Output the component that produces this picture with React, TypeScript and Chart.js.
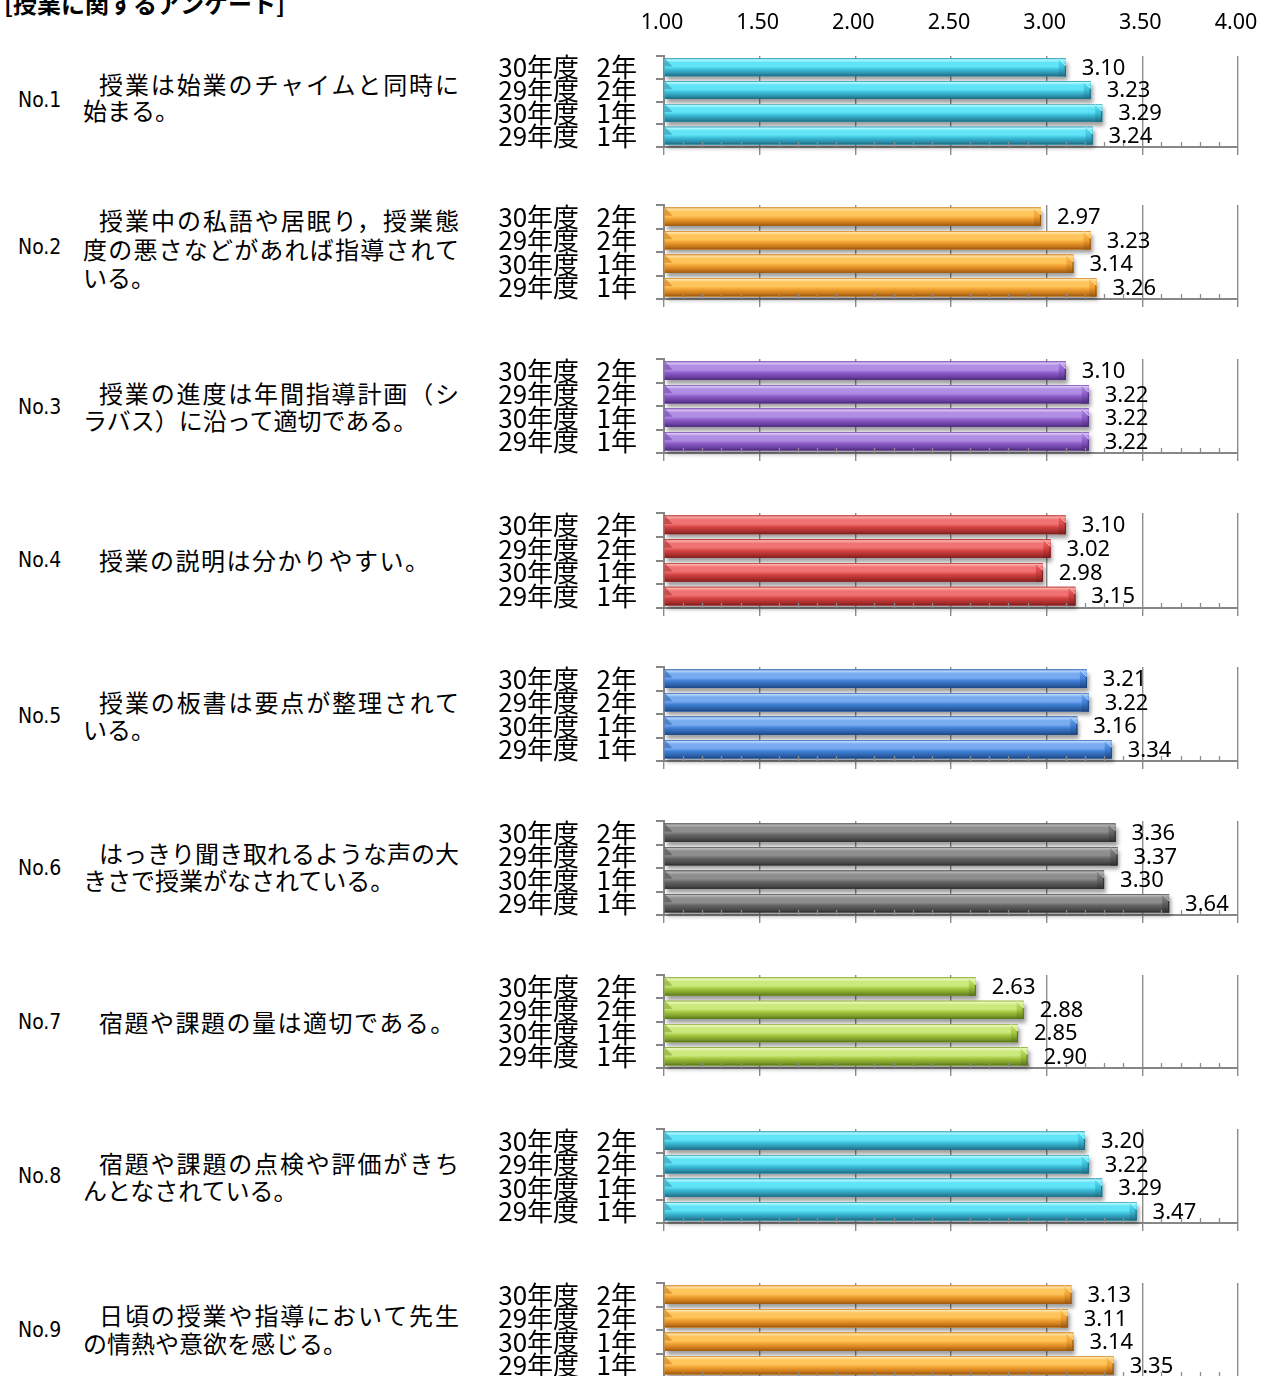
import React, { useEffect, useRef } from "react";
import { Chart, registerables } from "chart.js";

Chart.register(...registerables);

// ---------------- data ----------------
const categories = ["30年度   2年", "29年度   2年", "30年度   1年", "29年度   1年"];

const q1Values = [3.10, 3.23, 3.29, 3.24];
const q2Values = [2.97, 3.23, 3.14, 3.26];
const q3Values = [3.10, 3.22, 3.22, 3.22];
const q4Values = [3.10, 3.02, 2.98, 3.15];
const q5Values = [3.21, 3.22, 3.16, 3.34];
const q6Values = [3.36, 3.37, 3.30, 3.64];
const q7Values = [2.63, 2.88, 2.85, 2.90];
const q8Values = [3.20, 3.22, 3.29, 3.47];
const q9Values = [3.13, 3.11, 3.14, 3.35];

const axisMin = 1.0;
const axisMax = 4.0;
const axisStep = 0.5;

const title = "[授業に関するアンケート]";
const questionNumbers = ["No.1", "No.2", "No.3", "No.4", "No.5", "No.6", "No.7", "No.8", "No.9"];
const questionLines = [
  ["授業は始業のチャイムと同時に", "始まる。"],
  ["授業中の私語や居眠り，授業態", "度の悪さなどがあれば指導されて", "いる。"],
  ["授業の進度は年間指導計画（シ", "ラバス）に沿って適切である。"],
  ["授業の説明は分かりやすい。"],
  ["授業の板書は要点が整理されて", "いる。"],
  ["はっきり聞き取れるような声の大", "きさで授業がなされている。"],
  ["宿題や課題の量は適切である。"],
  ["宿題や課題の点検や評価がきち", "んとなされている。"],
  ["日頃の授業や指導において先生", "の情熱や意欲を感じる。"],
];

// ---------------- styles ----------------
type Pal = { light: string; hi: string; base: string; dark: string; edge: string };
const cyan: Pal = { light: "#b4faff", hi: "#62e4f8", base: "#3cbfda", dark: "#2b8eaa", edge: "#1d6a80" };
const orange: Pal = { light: "#ffe4a8", hi: "#ffc45a", base: "#f0a030", dark: "#c8771a", edge: "#975510" };
const purple: Pal = { light: "#dcc6f7", hi: "#b08ee4", base: "#8c5cc8", dark: "#6a40a2", edge: "#4b2a78" };
const red: Pal = { light: "#ffb0a8", hi: "#f07272", base: "#d54242", dark: "#a82e2e", edge: "#7a1e1e" };
const blue: Pal = { light: "#b8d6ff", hi: "#78abf0", base: "#3f80d6", dark: "#2c60a8", edge: "#1d447e" };
const gray: Pal = { light: "#b8b8b8", hi: "#8e8e8e", base: "#656565", dark: "#4a4a4a", edge: "#2e2e2e" };
const lime: Pal = { light: "#ecfbbf", hi: "#cbe97c", base: "#a3c840", dark: "#7d9c29", edge: "#58721a" };

const panels = [
  { values: q1Values, pal: cyan },
  { values: q2Values, pal: orange },
  { values: q3Values, pal: purple },
  { values: q4Values, pal: red },
  { values: q5Values, pal: blue },
  { values: q6Values, pal: gray },
  { values: q7Values, pal: lime },
  { values: q8Values, pal: cyan },
  { values: q9Values, pal: orange },
];

const panelTops = [56, 205, 359, 513, 667, 821, 975, 1129, 1283];
const panelHeights = [91, 94, 94, 95, 94, 94, 93, 94, 94];
const numberY = [100, 247, 407, 560, 716, 868, 1022, 1176, 1330];
const firstLineY = [84, 220, 393, 560, 702, 853, 1022, 1163, 1315];
const lineGaps = [26, 28.5, 27, 0, 27, 27, 0, 27, 28];

const CANVAS_LEFT = 480;
const CANVAS_W = 789;
const AXIS_LEFT = 184; // 664 on page
const PAD_RIGHT = 31; // right edge at 1238
const GRID_COLOR = "#8c8c8c";
const AXIS_COLOR = "#868686";
const NUM_FONT = '"Noto Sans", "Open Sans", sans-serif';
const JP_FONT = '"Noto Sans CJK JP", "Noto Sans", sans-serif';

function paintBar(ctx: CanvasRenderingContext2D, l: number, r: number, t: number, b: number, p: Pal) {
  const h = b - t;
  const g = ctx.createLinearGradient(0, t, 0, b);
  g.addColorStop(0, p.dark);
  g.addColorStop(0.07, p.light);
  g.addColorStop(0.22, p.hi);
  g.addColorStop(0.45, p.hi);
  g.addColorStop(0.62, p.base);
  g.addColorStop(0.85, p.dark);
  g.addColorStop(1, p.edge);
  ctx.fillStyle = g;
  ctx.fillRect(l, t, r - l, h);
  // left bevel
  ctx.fillStyle = p.dark;
  ctx.globalAlpha = 0.55;
  ctx.beginPath();
  ctx.moveTo(l, t);
  ctx.lineTo(l + 8, t + h * 0.45);
  ctx.lineTo(l, t + h * 0.45);
  ctx.closePath();
  ctx.fill();
  ctx.globalAlpha = 1;
  // right end facet
  const bv = Math.min(7, h * 0.4);
  const fg = ctx.createLinearGradient(0, t, 0, b);
  fg.addColorStop(0, p.hi);
  fg.addColorStop(0.5, p.base);
  fg.addColorStop(1, p.edge);
  ctx.fillStyle = fg;
  ctx.beginPath();
  ctx.moveTo(r - bv, t);
  ctx.lineTo(r, t + bv);
  ctx.lineTo(r, b);
  ctx.lineTo(r - bv, b);
  ctx.closePath();
  ctx.fill();
  ctx.strokeStyle = p.edge;
  ctx.lineWidth = 1;
  ctx.beginPath();
  ctx.moveTo(r - 0.5, t + bv);
  ctx.lineTo(r - 0.5, b);
  ctx.stroke();
  ctx.strokeStyle = p.light;
  ctx.beginPath();
  ctx.moveTo(r - bv, t + 0.5);
  ctx.lineTo(r, t + bv);
  ctx.stroke();
}

function makePlugin(pal: Pal, showTopTicks: boolean) {
  return {
    id: "barDeco",
    beforeDatasetsDraw(chart: any) {
      const ctx = chart.ctx as CanvasRenderingContext2D;
      const meta = chart.getDatasetMeta(0);
      ctx.save();
      meta.data.forEach((el: any) => {
        const h = el.height;
        ctx.shadowColor = "rgba(0,0,0,0.38)";
        ctx.shadowBlur = 4;
        ctx.shadowOffsetX = 2;
        ctx.shadowOffsetY = 4;
        ctx.fillStyle = pal.base;
        ctx.fillRect(el.base, el.y - h / 2, el.x - el.base, h);
      });
      ctx.restore();
    },
    afterDatasetsDraw(chart: any) {
      const ctx = chart.ctx as CanvasRenderingContext2D;
      const meta = chart.getDatasetMeta(0);
      const xs = chart.scales.x;
      const area = chart.chartArea;
      ctx.save();
      meta.data.forEach((el: any) => {
        const h = el.height;
        paintBar(ctx, el.base, el.x, el.y - h / 2, el.y + h / 2, pal);
      });
      // minor ticks on bottom axis
      ctx.strokeStyle = GRID_COLOR;
      ctx.lineWidth = 1.3;
      for (let i = 1; i < 30; i++) {
        if (i % 5 === 0) continue;
        const v = axisMin + i * 0.1;
        const px = Math.round(xs.getPixelForValue(v)) + 0.5;
        ctx.beginPath();
        ctx.moveTo(px, area.bottom);
        ctx.lineTo(px, area.bottom - 5);
        ctx.stroke();
      }
      // value labels
      ctx.fillStyle = "#000";
      ctx.font = `22px ${NUM_FONT}`;
      ctx.textAlign = "left";
      ctx.textBaseline = "middle";
      const data = chart.data.datasets[0].data as number[];
      meta.data.forEach((el: any, i: number) => {
        ctx.fillText(data[i].toFixed(2), el.x + 16, el.y + 1);
      });
      ctx.restore();
    },
    afterDraw(chart: any) {
      if (!showTopTicks) return;
      const ctx = chart.ctx as CanvasRenderingContext2D;
      const xs = chart.scales.x;
      ctx.save();
      ctx.fillStyle = "#000";
      ctx.font = `21.5px ${NUM_FONT}`;
      ctx.textAlign = "center";
      ctx.textBaseline = "middle";
      xs.ticks.forEach((t: any) => {
        ctx.fillText(Number(t.value).toFixed(2), xs.getPixelForValue(t.value) - 2, 23);
      });
      ctx.restore();
    },
  };
}

function Panel({ index }: { index: number }) {
  const ref = useRef<HTMLCanvasElement>(null);
  const top = panelTops[index];
  const height = panelHeights[index];
  const first = index === 0;
  const padTop = first ? top : 40;
  const padBottom = 30;
  const canvasH = padTop + height + 8 + padBottom;
  const { values, pal } = panels[index];

  useEffect(() => {
    if (!ref.current) return;
    const chart = new Chart(ref.current, {
      type: "bar",
      data: {
        labels: categories,
        datasets: [
          {
            data: values,
            base: axisMin,
            backgroundColor: pal.base,
            borderWidth: 0,
            barPercentage: 0.78,
            categoryPercentage: 1,
          },
        ],
      },
      options: {
        indexAxis: "y",
        responsive: false,
        maintainAspectRatio: false,
        animation: false,
        devicePixelRatio: 1,
        layout: { padding: { top: padTop, bottom: padBottom, left: 0, right: PAD_RIGHT } },
        plugins: {
          legend: { display: false },
          tooltip: { enabled: false },
        },
        scales: {
          x: {
            type: "linear",
            position: "bottom",
            min: axisMin,
            max: axisMax,
            ticks: { display: false, stepSize: axisStep },
            grid: {
              display: true,
              drawOnChartArea: true,
              drawTicks: true,
              tickLength: 8,
              color: GRID_COLOR,
              lineWidth: 1.4,
            },
            border: { display: true, color: AXIS_COLOR, width: 2 },
          },
          y: {
            type: "category",
            ticks: {
              color: "#000",
              padding: 19,
              autoSkip: false,
              font: { family: JP_FONT, size: 26, lineHeight: 1 },
            },
            grid: {
              display: true,
              drawOnChartArea: false,
              drawTicks: true,
              tickLength: 8,
              color: AXIS_COLOR,
              lineWidth: 2,
            },
            border: { display: true, color: AXIS_COLOR, width: 2 },
            afterFit: (s: any) => {
              s.width = AXIS_LEFT;
            },
          },
        },
      } as any,
      plugins: [makePlugin(pal, first)],
    });
    return () => chart.destroy();
  }, []);

  return (
    <canvas
      ref={ref}
      width={CANVAS_W}
      height={canvasH}
      style={{
        position: "absolute",
        left: CANVAS_LEFT,
        top: top - padTop,
        width: CANVAS_W,
        height: canvasH,
      }}
    />
  );
}

function QuestionText({ index }: { index: number }) {
  const lines = questionLines[index];
  const gap = lineGaps[index];
  const lh = 28;
  return (
    <>
      <div
        style={{
          position: "absolute",
          left: 18,
          top: numberY[index] - lh / 2,
          height: lh,
          lineHeight: `${lh}px`,
          fontFamily: '"DejaVu Sans Condensed", "DejaVu Sans", sans-serif',
          fontStretch: "condensed",
          fontSize: 21,
          color: "#000",
          whiteSpace: "nowrap",
        }}
      >
        {questionNumbers[index]}
      </div>
      {lines.map((ln, i) => {
        const isFirst = i === 0;
        const isLast = i === lines.length - 1;
        const left = isFirst ? 99 : 83;
        const justify = !isLast;
        const single = lines.length === 1;
        return (
          <div
            key={i}
            style={{
              position: "absolute",
              left,
              top: firstLineY[index] + i * gap - lh / 2,
              width: justify ? 459 - left : undefined,
              height: lh,
              lineHeight: `${lh}px`,
              fontFamily: JP_FONT,
              fontSize: 24,
              color: "#000",
              textAlign: justify ? "justify" : "left",
              textAlignLast: justify ? "justify" : "auto",
              wordBreak: "keep-all",
              whiteSpace: justify ? "normal" : "nowrap",
              letterSpacing: single ? 1.5 : 0,
            } as any}
          >
            {ln}
          </div>
        );
      })}
    </>
  );
}

export default function App() {
  return (
    <div
      style={{
        position: "absolute",
        left: 0,
        top: 0,
        width: 1269,
        height: 1376,
        overflow: "hidden",
        background: "#fff",
      }}
    >
      <div
        style={{
          position: "absolute",
          left: 4,
          top: -10,
          fontFamily: JP_FONT,
          fontWeight: "bold",
          fontSize: 24,
          lineHeight: "26px",
          color: "#000",
          whiteSpace: "nowrap",
        }}
      >
        {title}
      </div>
      {panels.map((_, i) => (
        <React.Fragment key={i}>
          <QuestionText index={i} />
          <Panel index={i} />
        </React.Fragment>
      ))}
    </div>
  );
}
